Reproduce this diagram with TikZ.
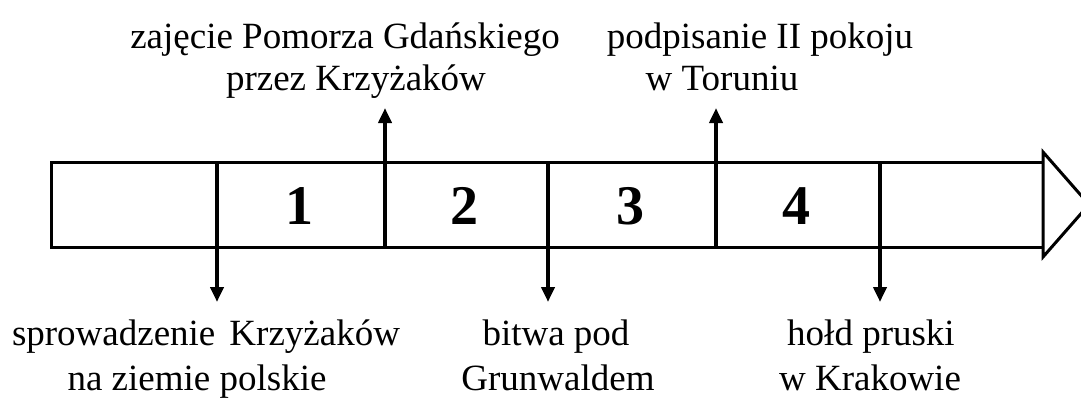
\documentclass[tikz,border=0pt]{standalone}
\usepackage{fontspec}
\setmainfont{Liberation Serif}
\usetikzlibrary{arrows.meta}
\tikzset{
  lbl/.style={inner sep=0pt, anchor=base, font=\fontsize{37}{44}\selectfont},
  num/.style={inner sep=0pt, anchor=center, font=\fontsize{56}{60}\selectfont\bfseries},
  band/.style={line width=3pt},
  evt/.style={line width=4pt, -{Triangle[width=13pt,length=15pt]}},
}
\begin{document}
\begin{tikzpicture}[x=1pt,y=-1pt]
\useasboundingbox (0,0) rectangle (1081,397);
% band
\coordinate (bl) at (51,162);
\coordinate (br) at (1043,247);
\draw[band] (1043,162) -- (51,162) -- (51,247) -- (1043,247);
\draw[band, line join=miter] (1043,152) -- (1089,204.5) -- (1043,257) -- cycle;
% numbers
\node[num] (n1) at (299,206) {1};
\node[num] (n2) at (464,206) {2};
\node[num] (n3) at (630,206) {3};
\node[num] (n4) at (796,206) {4};
% event arrows
\coordinate (d1s) at (217,162); \coordinate (d1e) at (217,302);
\coordinate (u1s) at (385,247); \coordinate (u1e) at (385,108);
\coordinate (d2s) at (548,162); \coordinate (d2e) at (548,302);
\coordinate (u2s) at (716,247); \coordinate (u2e) at (716,108);
\coordinate (d3s) at (880,162); \coordinate (d3e) at (880,302);
\draw[evt] (d1s) -- (d1e);
\draw[evt] (u1s) -- (u1e);
\draw[evt] (d2s) -- (d2e);
\draw[evt] (u2s) -- (u2e);
\draw[evt] (d3s) -- (d3e);
% top labels
\node[lbl] (t1a) at (345,48) {zajęcie Pomorza Gdańskiego};
\node[lbl] (t1b) at (356,90) {przez Krzyżaków};
\node[lbl] (t2a) at (760,48) {podpisanie II pokoju};
\node[lbl] (t2b) at (722,90) {w Toruniu};
% bottom labels
\node[lbl] (b1a) at (206,345) {sprowadzenie\hspace{0.38em}Krzyżaków};
\node[lbl] (b1b) at (197,390) {na ziemie polskie};
\node[lbl] (b2a) at (556,345) {bitwa pod};
\node[lbl] (b2b) at (558,390) {Grunwaldem};
\node[lbl] (b3a) at (871,345) {hołd pruski};
\node[lbl] (b3b) at (870,390) {w Krakowie};
\end{tikzpicture}
\end{document}
